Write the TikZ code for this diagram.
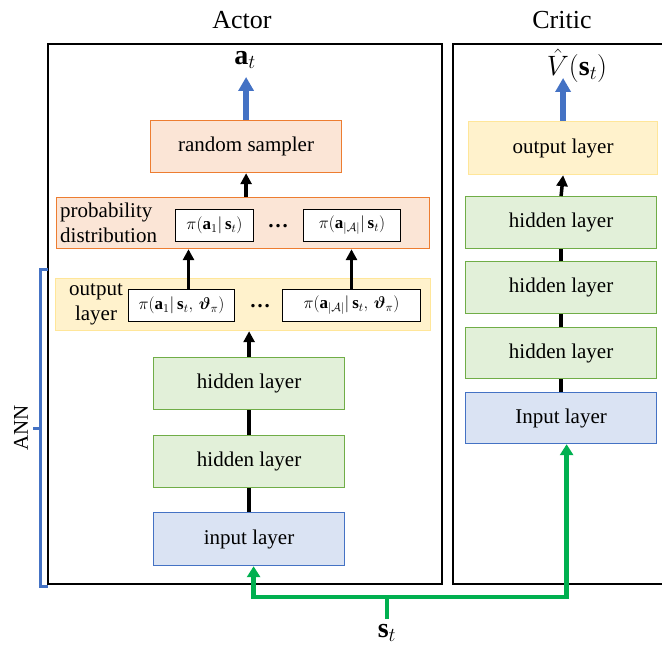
\RequirePackage{fix-cm}
\documentclass[tikz,border=0pt]{standalone}
\usepackage{amsmath,bm}
\usepackage{fontspec}
\setmainfont{Liberation Serif}
\usetikzlibrary{arrows.meta,calc}
\definecolor{orfill}{HTML}{FBE5D6}
\definecolor{ordraw}{HTML}{ED7D31}
\definecolor{yefill}{HTML}{FFF2CC}
\definecolor{yedraw}{HTML}{FFE699}
\definecolor{grfill}{HTML}{E2F0D9}
\definecolor{grdraw}{HTML}{70AD47}
\definecolor{blfill}{HTML}{DAE3F3}
\definecolor{bldraw}{HTML}{4472C4}
\definecolor{gline}{HTML}{00B050}
\begin{document}
\begin{tikzpicture}[x=1pt,y=-1pt,
  font=\fontsize{21}{25}\selectfont,
  layer/.style={draw, line width=1.2pt, inner sep=0pt, anchor=north west},
  orbox/.style={layer, fill=orfill, draw=ordraw},
  yebox/.style={layer, fill=yefill, draw=yedraw},
  grbox/.style={layer, fill=grfill, draw=grdraw, minimum width=191pt, minimum height=52pt},
  blbox/.style={layer, fill=blfill, draw=bldraw, minimum width=191pt, minimum height=52pt},
  wbox/.style={draw=black, fill=white, line width=1pt, inner sep=0pt, anchor=north west, minimum height=32pt, font=\fontsize{17}{19}\selectfont},
  frame/.style={draw=black, line width=1.4pt},
  karr/.style={draw=black, line width=3.5pt, -{Triangle[width=11pt,length=11pt]}},
  kline/.style={draw=black, line width=3.5pt},
  barr/.style={draw=bldraw, line width=5.5pt, -{Triangle[width=15pt,length=14pt]}},
  garr/.style={draw=gline, line width=4.5pt, -{Triangle[width=13pt,length=11pt]}},
  gstem/.style={draw=gline, line width=4.5pt},
  title/.style={font=\fontsize{26}{28}\selectfont},
  mlabel/.style={font=\fontsize{28}{30}\selectfont, inner sep=0pt}
]
\useasboundingbox (0,0) rectangle (662,647);

% frames
\draw[frame] (48,44) rectangle (442,584);
\draw[frame] (664,44) -- (453,44) -- (453,584) -- (664,584);
\node[title] (actor) at (242,20) {Actor};
\node[title] (critic) at (562,20) {Critic};

% ANN bracket
\draw[draw=bldraw, line width=3pt] (48,270) -- (40,270) -- (40,586) -- (48,586);
\draw[draw=bldraw, line width=3pt] (40,428) -- (33,428);
\node[rotate=90] (ann) at (21,428) {ANN};

% actor column
\node[mlabel] (at) at (245,60) {$\mathbf{a}_t$};
\coordinate (attip) at (245,77);
\node[orbox, minimum width=191pt, minimum height=52pt] (rs) at (150,120) {random sampler};
\node[orbox, minimum width=373pt, minimum height=51pt] (prob) at (56,197) {};
\node[align=left, anchor=west, inner sep=0pt] (pl) at (60,223) {probability\\distribution};
\node[wbox, minimum width=78pt] (pb1) at (175,209) {$\pi(\mathbf{a}_1|\,\mathbf{s}_t)$};
\node (pdots) at (278,226) {\textbf{…}};
\node[wbox, minimum width=97pt] (pb2) at (303,209) {$\pi(\mathbf{a}_{|\mathcal{A}|}|\,\mathbf{s}_t)$};

\node[yebox, minimum width=375pt, minimum height=52pt] (out) at (55,278) {};
\node[align=center, inner sep=0pt] (ol) at (96,304) {output\\layer};
\node[wbox, minimum width=106pt] (ob1) at (128,289) {$\pi(\mathbf{a}_1|\,\mathbf{s}_t,\,\bm{\vartheta}_\pi)$};
\node (odots) at (260,306) {\textbf{…}};
\node[wbox, minimum width=138pt] (ob2) at (282,289) {$\pi(\mathbf{a}_{|\mathcal{A}|}|\,\mathbf{s}_t,\,\bm{\vartheta}_\pi)$};

\node[grbox] (h1) at (153,357) {hidden layer};
\node[grbox] (h2) at (153,435) {hidden layer};
\node[blbox, minimum height=53pt] (in) at (153,512) {input layer};

% critic column
\node[mlabel] (vt) at (577,66) {$\hat{V}(\mathbf{s}_t)$};
\coordinate (vtip) at (563,78);
\node[yebox, minimum width=189pt, minimum height=53pt] (cout) at (468,121) {output layer};
\node[grbox] (ch1) at (465,196) {hidden layer};
\node[grbox] (ch2) at (465,261) {hidden layer};
\node[grbox, minimum height=51pt] (ch3) at (465,327) {hidden layer};
\node[blbox, minimum height=51pt] (cin) at (465,392) {Input layer};

% actor connectors
\draw[barr] (rs.north) -- (rs.north |- attip);
\draw[karr] (rs.south |- prob.north) -- (rs.south);
\draw[karr] ([xshift=7pt]ob1.north) -- ([xshift=7pt]ob1.north |- prob.south);
\draw[karr] (ob2.north) -- (ob2.north |- prob.south);
\draw[karr] (h1.north) -- (h1.north |- out.south);
\draw[kline] (h2.north) -- (h1.south);
\draw[kline] (in.north) -- (h2.south);

% critic connectors
\draw[barr] (cout.north) -- (cout.north |- vtip);
\draw[karr] (ch1.north) -- (cout.south);
\draw[kline] (ch2.north) -- (ch1.south);
\draw[kline] (ch3.north) -- (ch2.south);
\draw[kline] (cin.north) -- (ch3.south);

% state input
\node[mlabel] (st) at (387,633) {$\mathbf{s}_t$};
\coordinate (stop) at (387,619);
\coordinate (gj) at (387,597);
\draw[gstem] (stop) -- (gj);
\draw[garr] (gj) -| ([xshift=4.5pt]in.south);
\draw[garr] (gj) -| ([xshift=5.5pt]cin.south);
\end{tikzpicture}
\end{document}
